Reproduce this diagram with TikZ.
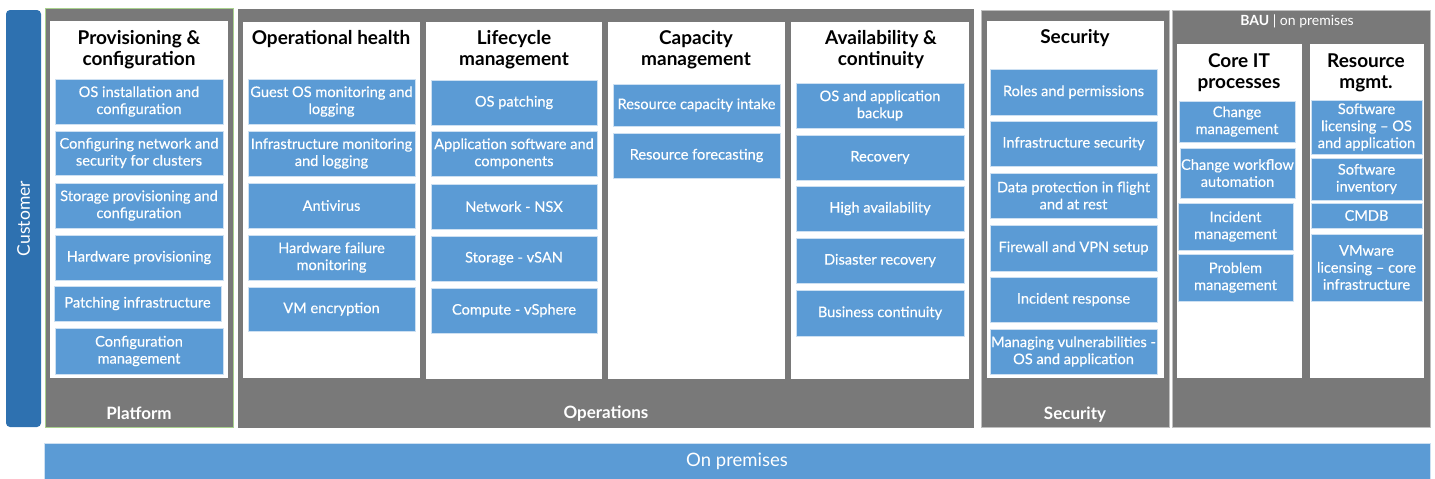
\documentclass[tikz,border=0pt]{standalone}
\usepackage{fontspec}
\setmainfont{Lato}
\newfontfamily\itemfont{Lato}[FakeBold=0.35]
\definecolor{panelgray}{RGB}{121,121,121}
\definecolor{itemblue}{RGB}{91,155,213}
\definecolor{itemedge}{RGB}{205,224,242}
\definecolor{custblue}{RGB}{46,113,176}
\definecolor{platedge}{RGB}{169,209,142}
\definecolor{paneledge}{RGB}{191,191,191}

\begin{document}
\begin{tikzpicture}[x=1pt, y=-1pt,
  item/.style={rectangle, draw=itemedge, line width=1pt, fill=itemblue, text=white, align=center, inner sep=0pt, font=\itemfont\fontsize{14.6}{17}\selectfont},
  title/.style={align=center, inner sep=0pt, font=\bfseries\fontsize{19}{21}\selectfont},
  foot/.style={text=white, inner sep=0pt, anchor=base, font=\bfseries\fontsize{17}{20}\selectfont}]
  \useasboundingbox (0,0) rectangle (1435,479);
  \filldraw[fill=panelgray, draw=platedge, line width=0.8pt] (45,8) rectangle (233,427);
  \filldraw[fill=panelgray, draw=panelgray] (238,9) rectangle (973,427);
  \filldraw[fill=panelgray, draw=paneledge, line width=0.8pt] (981,10) rectangle (1169,427);
  \filldraw[fill=panelgray, draw=paneledge, line width=0.8pt] (1172,10) rectangle (1430,427);
  \fill[white] (50,21) rectangle (228,378);
  \fill[white] (243,22) rectangle (420,378);
  \fill[white] (426,22) rectangle (602,379);
  \fill[white] (608,22) rectangle (785,379);
  \fill[white] (791,22) rectangle (969,379);
  \fill[white] (987,21) rectangle (1164,378);
  \fill[white] (1177,44) rectangle (1302,378);
  \fill[white] (1310,44) rectangle (1424,378);
  \node[rotate=90, fill=custblue, rounded corners=4pt, minimum width=417pt, minimum height=35pt, text=white, font=\fontsize{17.5}{20}\selectfont] (customer) at (23.5,218.5) {Customer};
  \node[draw=itemedge, fill=itemblue, minimum width=1386pt, minimum height=36pt, text height=10pt, text depth=0pt, text=white, font=\fontsize{18.5}{21}\selectfont] (onprem) at (737,461) {On premises};
  \node[text=white, font=\fontsize{14}{16}\selectfont] (bau) at (1297,21) {\textbf{BAU} | on premises};
  \node[title] (pvtitle) at (139,49.5) {Provisioning \&\\configuration};
  \node[title] (ohtitle) at (331,39) {Operational health};
  \node[title] (lctitle) at (514,49.5) {Lifecycle\\management};
  \node[title] (cmtitle) at (696,49.5) {Capacity\\management};
  \node[title] (actitle) at (881,49.5) {Availability \&\\continuity};
  \node[title] (sctitle) at (1075,38) {Security};
  \node[title] (cititle) at (1239,72.5) {Core IT\\processes};
  \node[title] (rmtitle) at (1366,72.5) {Resource\\mgmt.};
  \node[item, minimum width=168pt, minimum height=45pt] (pv1) at (139,101.5) {OS installation and\\configuration};
  \node[item, minimum width=168pt, minimum height=44pt] (pv2) at (139,153) {Configuring network and\\security for clusters};
  \node[item, minimum width=168pt, minimum height=45pt] (pv3) at (139,205.5) {Storage provisioning and\\configuration};
  \node[item, minimum width=168pt, minimum height=45pt] (pv4) at (139,257.5) {Hardware provisioning};
  \node[item, minimum width=167pt, minimum height=35pt] (pv5) at (137.5,303.5) {Patching infrastructure};
  \node[item, minimum width=168pt, minimum height=46pt] (pv6) at (139,351) {Configuration\\management};
  \node[item, minimum width=167pt, minimum height=45pt] (oh1) at (331.5,101.5) {Guest OS monitoring and\\logging};
  \node[item, minimum width=167pt, minimum height=45pt] (oh2) at (331.5,153.5) {Infrastructure monitoring\\and logging};
  \node[item, minimum width=167pt, minimum height=45pt] (oh3) at (331.5,205.5) {Antivirus};
  \node[item, minimum width=167pt, minimum height=45pt] (oh4) at (331.5,257.5) {Hardware failure\\monitoring};
  \node[item, minimum width=167pt, minimum height=44pt] (oh5) at (331.5,309) {VM encryption};
  \node[item, minimum width=166pt, minimum height=45pt] (lc1) at (514,102.5) {OS patching};
  \node[item, minimum width=166pt, minimum height=45pt] (lc2) at (514,153.5) {Application software and\\components};
  \node[item, minimum width=166pt, minimum height=45pt] (lc3) at (514,206.5) {Network - NSX};
  \node[item, minimum width=166pt, minimum height=45pt] (lc4) at (514,258.5) {Storage - vSAN};
  \node[item, minimum width=166pt, minimum height=45pt] (lc5) at (514,310.5) {Compute - vSphere};
  \node[item, minimum width=167pt, minimum height=42pt] (cm1) at (696.5,105) {Resource capacity intake};
  \node[item, minimum width=167pt, minimum height=45pt] (cm2) at (696.5,155.5) {Resource forecasting};
  \node[item, minimum width=168pt, minimum height=45pt] (ac1) at (880,105.5) {OS and application\\backup};
  \node[item, minimum width=168pt, minimum height=45pt] (ac2) at (880,157.5) {Recovery};
  \node[item, minimum width=168pt, minimum height=45pt] (ac3) at (880,208.5) {High availability};
  \node[item, minimum width=168pt, minimum height=45pt] (ac4) at (880,260.5) {Disaster recovery};
  \node[item, minimum width=168pt, minimum height=46pt] (ac5) at (880,313) {Business continuity};
  \node[item, minimum width=167pt, minimum height=46pt] (sc1) at (1073.5,92) {Roles and permissions};
  \node[item, minimum width=167pt, minimum height=45pt] (sc2) at (1073.5,143.5) {Infrastructure security};
  \node[item, minimum width=167pt, minimum height=45pt] (sc3) at (1073.5,195.5) {Data protection in flight\\and at rest};
  \node[item, minimum width=167pt, minimum height=46pt] (sc4) at (1073.5,248) {Firewall and VPN setup};
  \node[item, minimum width=167pt, minimum height=45pt] (sc5) at (1073.5,299.5) {Incident response};
  \node[item, minimum width=167pt, minimum height=45pt] (sc6) at (1073.5,351.5) {Managing vulnerabilities -\\OS and application};
  \node[item, minimum width=116pt, minimum height=41pt] (ci1) at (1237,121.5) {Change\\management};
  \node[item, minimum width=115pt, minimum height=50pt] (ci2) at (1237.5,173) {Change workflow\\automation};
  \node[item, minimum width=115pt, minimum height=47pt] (ci3) at (1235.5,226.5) {Incident\\management};
  \node[item, minimum width=115pt, minimum height=47pt] (ci4) at (1235.5,277.5) {Problem\\management};
  \node[item, minimum width=111pt, minimum height=54pt] (rm1) at (1366.5,127) {Software\\licensing – OS\\and application};
  \node[item, minimum width=111pt, minimum height=42pt] (rm2) at (1366.5,179) {Software\\inventory};
  \node[item, minimum width=111pt, minimum height=25pt] (rm3) at (1366.5,215.5) {CMDB};
  \node[item, minimum width=111pt, minimum height=67pt] (rm4) at (1366.5,267.5) {VMware\\licensing – core\\infrastructure};
  \node[foot] (pvfoot) at (139,419) {Platform};
  \node[foot] (opfoot) at (606,418) {Operations};
  \node[foot] (scfoot) at (1075,419) {Security};
\end{tikzpicture}
\end{document}
